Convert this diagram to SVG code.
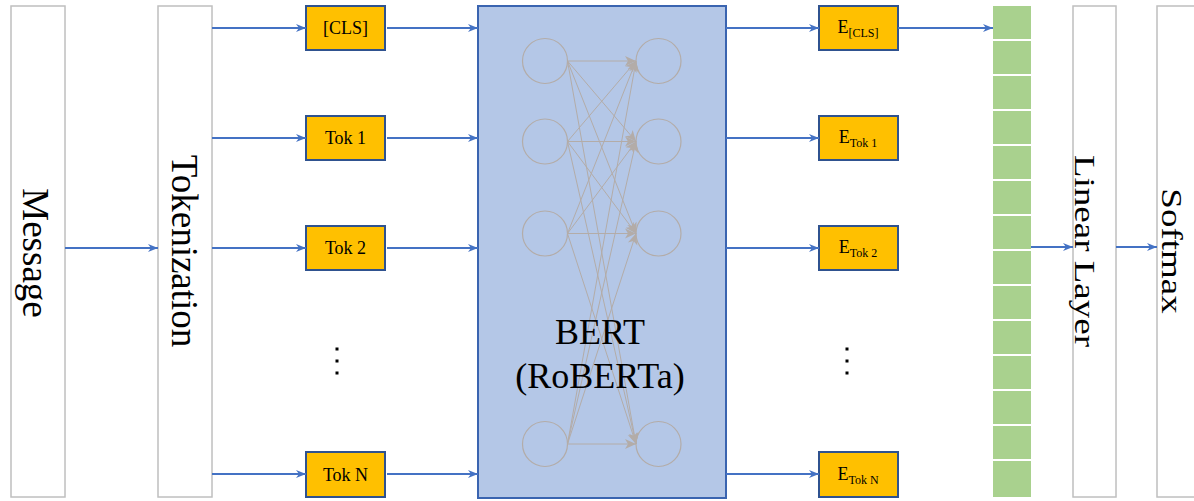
<svg xmlns="http://www.w3.org/2000/svg" width="1194" height="501" viewBox="0 0 1194 501">
<style>
.outline{fill:#ffffff;stroke:#bfbfbf;stroke-width:1.5}
.tok{fill:#ffc000;stroke:#2f528f;stroke-width:2}
.lbl{font-family:"Liberation Serif","Times New Roman",serif;fill:#000}
.big{font-size:37px}
.small{font-size:18px}
.conn{stroke:#4472c4;stroke-width:2;fill:none;marker-end:url(#arr)}
.net{stroke:#b3aca8;stroke-width:1.2;fill:none}
.netl{stroke:#b3aca8;stroke-width:1;fill:none;marker-end:url(#garr)}
.green{fill:#a9d18e}
</style>
<defs>
<marker id="arr" markerUnits="userSpaceOnUse" markerWidth="11" markerHeight="10" refX="10" refY="5" orient="auto">
<path d="M0,1 L10,5 L0,9 L3,5 z" fill="#4472c4"/>
</marker>
<marker id="garr" markerUnits="userSpaceOnUse" markerWidth="12" markerHeight="12" refX="11" refY="6" orient="auto">
<path d="M0,1 L11,6 L0,11 L3,6 z" fill="#b3aca8"/>
</marker>
</defs>
<rect width="1194" height="501" fill="#ffffff"/>

<g id="message">
<rect class="outline" x="11" y="6" width="54" height="491"/>
<text class="lbl big" text-anchor="middle" transform="translate(23,253) rotate(90)">Message</text>
</g>
<g id="tokenization">
<rect class="outline" x="158" y="6" width="54" height="491"/>
<text class="lbl big" text-anchor="middle" transform="translate(172,251) rotate(90)">Tokenization</text>
</g>

<g id="tok-cls"><rect class="tok" x="306" y="6" width="79" height="44"/><text class="lbl small" x="345.5" y="34" text-anchor="middle">[CLS]</text></g>
<g id="tok-1"><rect class="tok" x="306" y="116" width="79" height="44"/><text class="lbl small" x="345.5" y="144" text-anchor="middle">Tok 1</text></g>
<g id="tok-2"><rect class="tok" x="306" y="226" width="79" height="44"/><text class="lbl small" x="345.5" y="254" text-anchor="middle">Tok 2</text></g>
<g id="tok-n"><rect class="tok" x="306" y="452" width="79" height="45"/><text class="lbl small" x="345.5" y="481" text-anchor="middle">Tok N</text></g>
<g id="dots-left" fill="#000">
<rect x="335.5" y="347.5" width="3" height="3"/><rect x="335.5" y="359.5" width="3" height="3"/><rect x="335.5" y="371.5" width="3" height="3"/>
</g>

<g id="bert">
<rect x="478" y="6" width="248" height="492" fill="#b4c7e7" stroke="#3a64b0" stroke-width="2"/>
<g id="network">
<circle class="net" cx="545" cy="61" r="22.5"/>
<circle class="net" cx="545" cy="141.5" r="22.5"/>
<circle class="net" cx="545" cy="233.5" r="22.5"/>
<circle class="net" cx="545" cy="444" r="22.5"/>
<circle class="net" cx="658.5" cy="61" r="22.5"/>
<circle class="net" cx="658.5" cy="141.5" r="22.5"/>
<circle class="net" cx="658.5" cy="233.5" r="22.5"/>
<circle class="net" cx="658.5" cy="444" r="22.5"/>
<path class="netl" d="M567.5,61 L636,61"/>
<path class="netl" d="M567.5,61 L636,141.5"/>
<path class="netl" d="M567.5,61 L636,233.5"/>
<path class="netl" d="M567.5,61 L636,444"/>
<path class="netl" d="M567.5,141.5 L636,61"/>
<path class="netl" d="M567.5,141.5 L636,141.5"/>
<path class="netl" d="M567.5,141.5 L636,233.5"/>
<path class="netl" d="M567.5,141.5 L636,444"/>
<path class="netl" d="M567.5,233.5 L636,61"/>
<path class="netl" d="M567.5,233.5 L636,141.5"/>
<path class="netl" d="M567.5,233.5 L636,233.5"/>
<path class="netl" d="M567.5,233.5 L636,444"/>
<path class="netl" d="M567.5,444 L636,61"/>
<path class="netl" d="M567.5,444 L636,141.5"/>
<path class="netl" d="M567.5,444 L636,233.5"/>
<path class="netl" d="M567.5,444 L636,444"/>
</g>
<text class="lbl" font-size="36" x="600" y="344" text-anchor="middle">BERT</text>
<text class="lbl" font-size="36" x="600" y="388" text-anchor="middle">(RoBERTa)</text>
</g>

<g id="e-cls"><rect class="tok" x="819" y="6" width="79" height="44"/><text class="lbl" x="858" y="33" text-anchor="middle"><tspan font-size="18">E</tspan><tspan font-size="12" dy="4">[CLS]</tspan></text></g>
<g id="e-1"><rect class="tok" x="819" y="116" width="79" height="44"/><text class="lbl" x="858" y="143" text-anchor="middle"><tspan font-size="18">E</tspan><tspan font-size="12" dy="4">Tok 1</tspan></text></g>
<g id="e-2"><rect class="tok" x="819" y="226" width="79" height="44"/><text class="lbl" x="858" y="253" text-anchor="middle"><tspan font-size="18">E</tspan><tspan font-size="12" dy="4">Tok 2</tspan></text></g>
<g id="e-n"><rect class="tok" x="819" y="452" width="79" height="45"/><text class="lbl" x="858" y="480" text-anchor="middle"><tspan font-size="18">E</tspan><tspan font-size="12" dy="4">Tok N</tspan></text></g>
<g id="dots-right" fill="#000">
<rect x="845.5" y="347.5" width="3" height="3"/><rect x="845.5" y="359.5" width="3" height="3"/><rect x="845.5" y="371.5" width="3" height="3"/>
</g>

<g id="vector">
<rect class="green" x="993" y="6" width="38" height="33"/>
<rect class="green" x="993" y="41" width="38" height="33"/>
<rect class="green" x="993" y="76" width="38" height="33"/>
<rect class="green" x="993" y="111" width="38" height="33"/>
<rect class="green" x="993" y="146" width="38" height="33"/>
<rect class="green" x="993" y="181" width="38" height="33"/>
<rect class="green" x="993" y="216" width="38" height="33"/>
<rect class="green" x="993" y="251" width="38" height="33"/>
<rect class="green" x="993" y="286" width="38" height="33"/>
<rect class="green" x="993" y="321" width="38" height="33"/>
<rect class="green" x="993" y="356" width="38" height="33"/>
<rect class="green" x="993" y="391" width="38" height="33"/>
<rect class="green" x="993" y="426" width="38" height="33"/>
<rect class="green" x="993" y="461" width="38" height="36"/>
</g>

<g id="linear">
<rect class="outline" x="1073" y="6" width="43" height="491"/>
<text class="lbl big" text-anchor="middle" transform="translate(1075,251) rotate(90) scale(1,0.8)">Linear Layer</text>
</g>
<g id="softmax">
<rect class="outline" x="1157" y="6" width="50" height="491"/>
<text class="lbl big" text-anchor="middle" transform="translate(1162,251) rotate(90) scale(1,0.8)">Softmax</text>
</g>

<g id="connectors">
<path class="conn" d="M65,248 L158,248"/>
<path class="conn" d="M212,28 L306,28"/>
<path class="conn" d="M212,138 L306,138"/>
<path class="conn" d="M212,248 L306,248"/>
<path class="conn" d="M212,474 L306,474"/>
<path class="conn" d="M387,28 L478,28"/>
<path class="conn" d="M387,138 L478,138"/>
<path class="conn" d="M387,248 L478,248"/>
<path class="conn" d="M387,474 L478,474"/>
<path class="conn" d="M726,28 L819,28"/>
<path class="conn" d="M726,138 L819,138"/>
<path class="conn" d="M726,248 L819,248"/>
<path class="conn" d="M726,474 L819,474"/>
<path class="conn" d="M898,28 L993,28"/>
<path class="conn" d="M1031,247 L1073,247"/>
<path class="conn" d="M1116,247 L1157,247"/>
</g>
</svg>
